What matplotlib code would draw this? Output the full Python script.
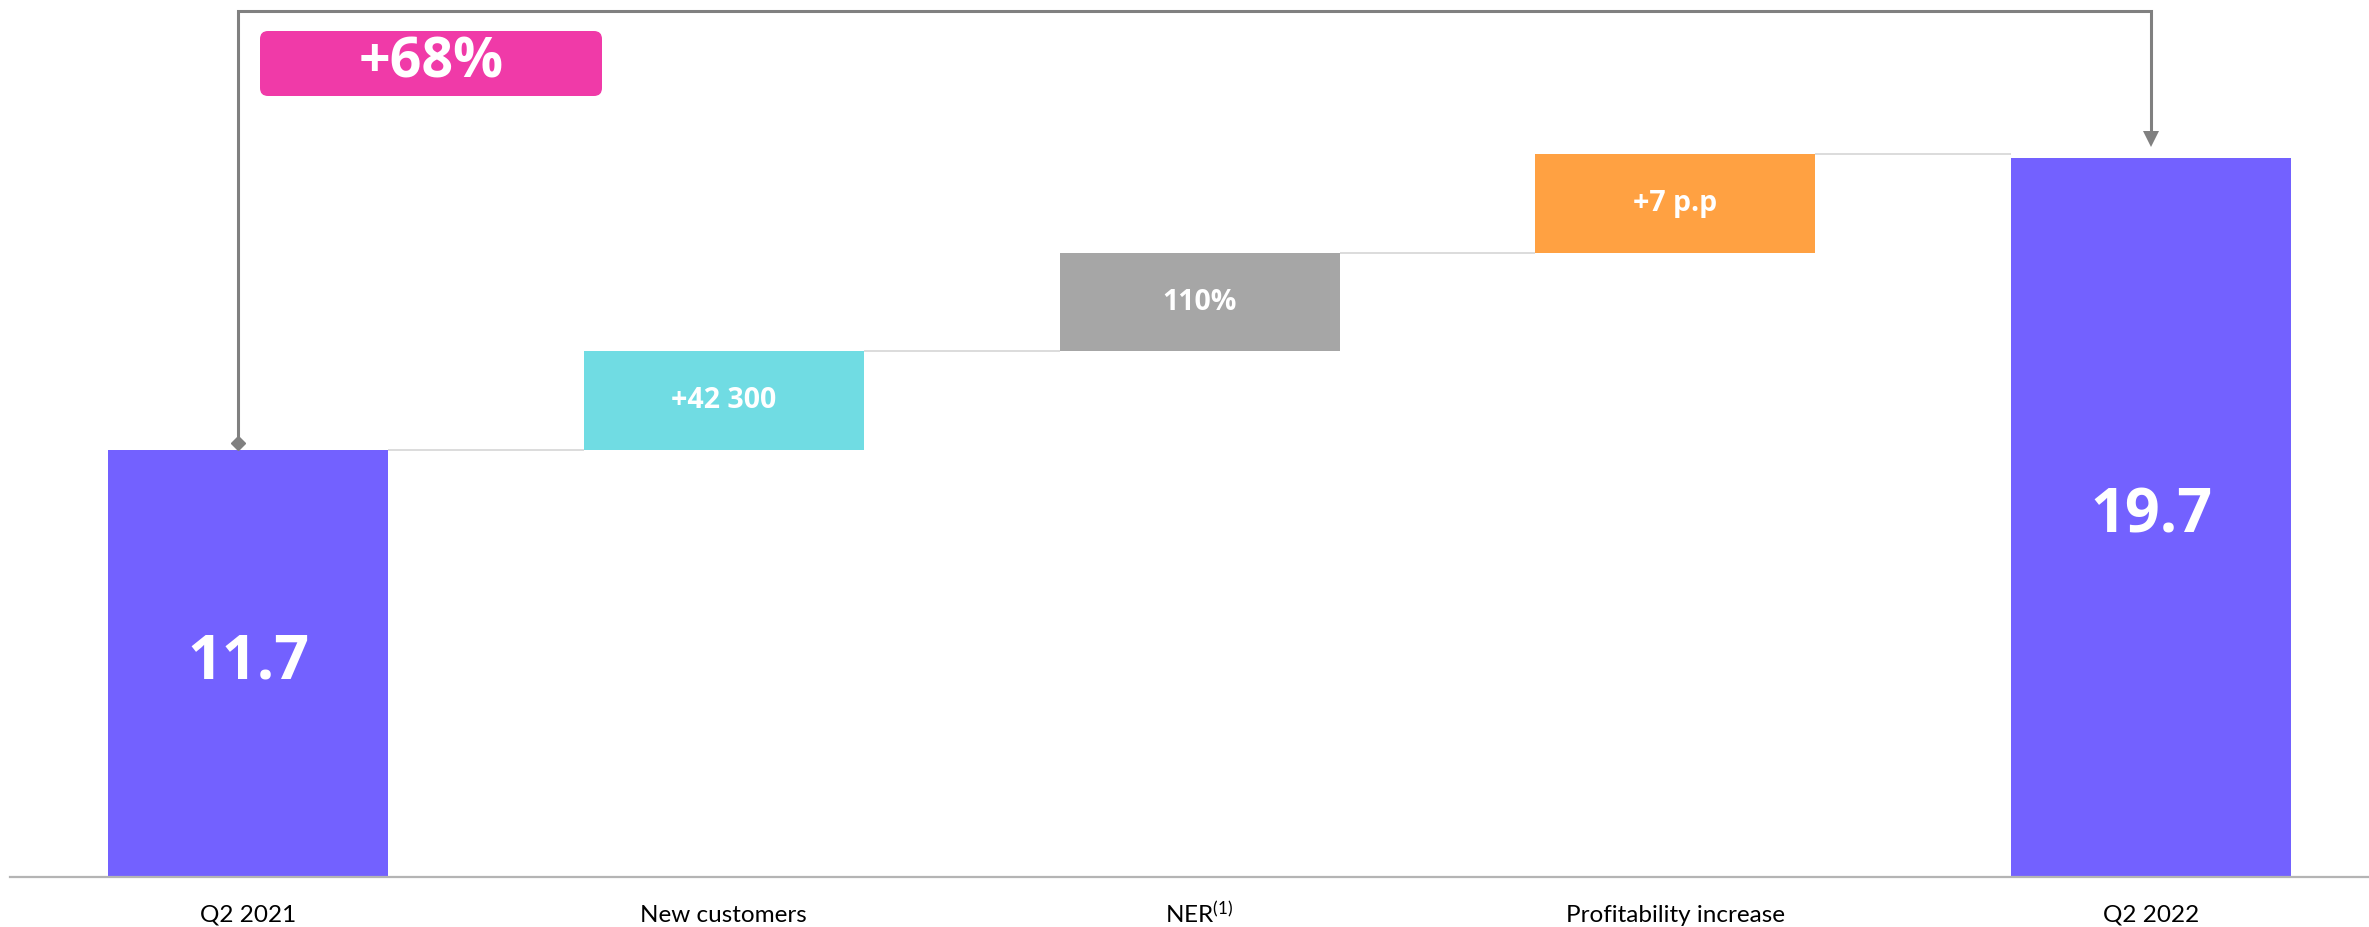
import matplotlib
matplotlib.use("Agg")
import matplotlib.pyplot as plt
from matplotlib.patches import FancyBboxPatch

# Waterfall data
categories = ["Q2 2021", "New customers", r"$\mathregular{NER^{(1)}}$",
              "Profitability increase", "Q2 2022"]
start_value = 11.7
steps = [2.7, 2.7, 2.7]
end_value = 19.7
step_labels = ["+42 300", "110%", "+7 p.p"]
growth_label = "+68%"

colors = ["#7361FF", "#70DCE3", "#A6A6A6", "#FFA142", "#7361FF"]
font = "Lato"
bold_font = "Open Sans"

# Bar geometry: totals start at zero, steps float on the running sum
heights = [start_value] + steps + [end_value]
bottoms = [0.0]
running = start_value
for s in steps:
    bottoms.append(running)
    running += s
bottoms.append(0.0)
x = list(range(len(categories)))

W, H, DPI = 2369, 927, 100
fig = plt.figure(figsize=(W / DPI, H / DPI), dpi=DPI)
ax = fig.add_axes([0, 0, 1, 1])
ax.axis("off")

px_x = 475.75   # pixels per category
px_y = 36.5     # pixels per unit
x0_px, y0_px = 248, 877
ax.set_xlim(-x0_px / px_x, (W - x0_px) / px_x)
ax.set_ylim(-(H - y0_px) / px_y, y0_px / px_y)

bar_w = 280 / px_x
ax.bar(x, heights, bottom=bottoms, width=bar_w, color=colors, zorder=3)

# Connectors between consecutive bars
for i in range(len(x) - 1):
    level = bottoms[i] + heights[i]
    ax.plot([x[i] + bar_w / 2, x[i + 1] - bar_w / 2], [level, level],
            color="#D9D9D9", lw=1.3, zorder=2, solid_capstyle="butt")

# Baseline
ax.plot([x[0] - 0.5, ax.get_xlim()[1]], [0, 0], color="#B4B4B4", lw=1.6, zorder=4)

# Category labels
for xi, lab in zip(x, categories):
    ax.text(xi, -38 / px_y, lab, ha="center", va="center", fontsize=17.5,
            family=font, color="#000000")

# Values inside the total bars
for i in (0, len(x) - 1):
    ax.text(x[i], bottoms[i] + heights[i] / 2, f"{heights[i]:.1f}", ha="center",
            va="center", fontsize=44, fontweight="bold", family=bold_font,
            color="white", zorder=5)

# Labels inside the step bars
for i, lab in enumerate(step_labels, start=1):
    ax.text(x[i], bottoms[i] + heights[i] / 2, lab, ha="center", va="center",
            fontsize=20.5, fontweight="bold", family=bold_font, color="white", zorder=5)

# Growth bracket from first to last total
left_x = x[0] - 10 / px_x
right_x = x[-1]
top_y = (y0_px - 11) / px_y
diamond_y = start_value + 7 / px_y
tip_y = end_value + 11 / px_y
ax.plot([left_x, left_x, right_x, right_x], [diamond_y, top_y, top_y, tip_y + 10 / px_y],
        color="#808080", lw=2.2, zorder=6, solid_joinstyle="miter")
ax.plot([left_x], [diamond_y], marker="D", color="#808080", markersize=7, zorder=6)
ax.plot([right_x], [tip_y + 7.5 / px_y], marker="v", color="#808080", markersize=11,
        markeredgewidth=0, zorder=6)

# Growth badge
bx0, bx1 = (260 - x0_px) / px_x, (602 - x0_px) / px_x
by0, by1 = (y0_px - 96) / px_y, (y0_px - 31) / px_y
badge = FancyBboxPatch((bx0, by0), bx1 - bx0, by1 - by0,
                       boxstyle=f"round,pad=0,rounding_size={8 / px_x}",
                       mutation_aspect=px_x / px_y, facecolor="#F03AA8",
                       edgecolor="none", zorder=6)
ax.add_patch(badge)
ax.text((bx0 + bx1) / 2, (by0 + by1) / 2, growth_label, ha="center", va="center",
        fontsize=40, fontweight="bold", family=bold_font, color="white", zorder=7)

fig.savefig("out.png", dpi=DPI)
